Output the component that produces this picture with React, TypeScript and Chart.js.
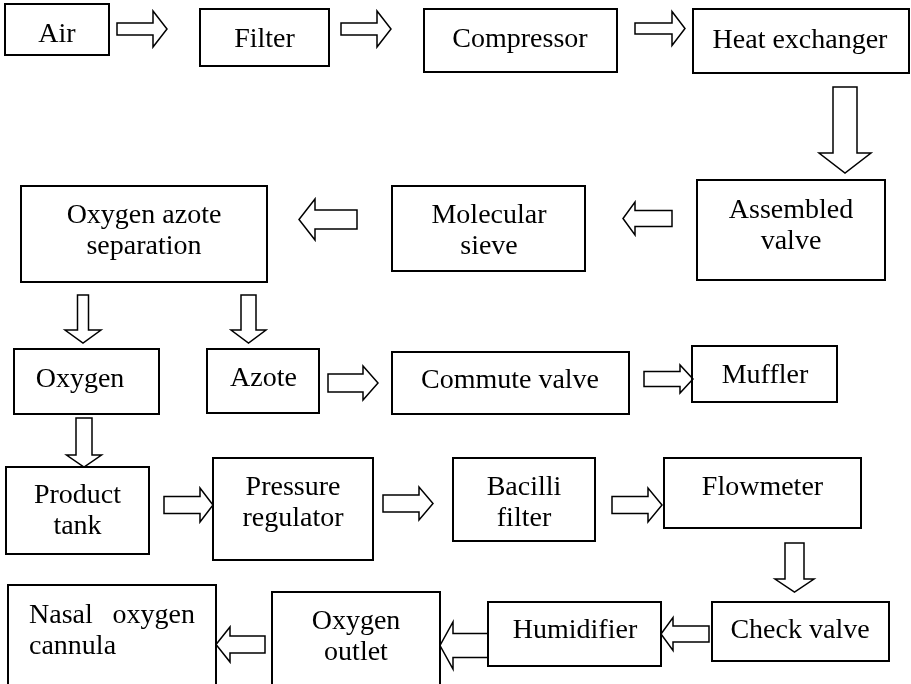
import React, { useEffect, useRef } from "react";
import { Chart, registerables } from "chart.js";

Chart.register(...registerables);

// ---- Flowchart data (units = diagram coordinates, 0..911 x 0..684) ----
const nodeLabels: string[][] = [
  ["Air"],
  ["Filter"],
  ["Compressor"],
  ["Heat exchanger"],
  ["Assembled", "valve"],
  ["Molecular", "sieve"],
  ["Oxygen azote", "separation"],
  ["Oxygen"],
  ["Azote"],
  ["Commute valve"],
  ["Muffler"],
  ["Product", "tank"],
  ["Pressure", "regulator"],
  ["Bacilli", "filter"],
  ["Flowmeter"],
  ["Check valve"],
  ["Humidifier"],
  ["Oxygen", "outlet"],
  ["Nasal oxygen", "cannula"],
];

// [left, top, right, bottom]
const nodeBounds: number[][] = [
  [5, 4, 109, 55],
  [200, 9, 329, 66],
  [424, 9, 617, 72],
  [693, 9, 909, 73],
  [697, 180, 885, 280],
  [392, 186, 585, 271],
  [21, 186, 267, 282],
  [14, 349, 159, 414],
  [207, 349, 319, 413],
  [392, 352, 629, 414],
  [692, 346, 837, 402],
  [6, 467, 149, 554],
  [213, 458, 373, 560],
  [453, 458, 595, 541],
  [664, 458, 861, 528],
  [712, 602, 889, 661],
  [488, 602, 661, 666],
  [272, 592, 440, 700],
  [8, 585, 216, 700],
];

// [text centre x, first baseline y]
const nodeTextAnchor: number[][] = [
  [57, 42],
  [264.5, 47],
  [520, 47],
  [800, 48],
  [791, 218],
  [489, 223],
  [144, 223],
  [80, 387],
  [263.5, 386],
  [510, 388],
  [765, 383],
  [77.5, 503],
  [293, 495],
  [524, 495],
  [762.5, 495],
  [800, 638],
  [575, 638],
  [356, 629],
  [112, 623],
];

// justified text span for the "Nasal oxygen cannula" node
const justifiedNode = 18;
const justifiedSpan = [29, 195];

// arrows: direction, tail, tip, cross-axis centre, shaft half-width, head half-width, head length
const arrowDir: string[] = [
  "right", "right", "right", "down", "left", "left", "down", "down", "right",
  "right", "down", "right", "right", "right", "down", "left", "left", "left",
];
const arrowTail: number[] = [117, 341, 635, 87, 672, 357, 295, 295, 328, 644, 418, 164, 383, 612, 543, 709, 488, 265];
const arrowTip: number[] = [167, 391, 685, 173, 623, 299, 343, 343, 378, 693, 467, 213, 433, 662, 592, 661, 440, 216];
const arrowAt: number[] = [29, 29, 28.5, 845, 218.5, 219.5, 83, 248.5, 383, 379, 84, 505, 503.5, 505, 794.5, 634, 645.5, 644.5];
const arrowShaft: number[] = [6, 6, 5.5, 12, 8, 9.5, 5.5, 7.5, 9, 7.5, 8, 8.5, 8.5, 8.5, 9.5, 8, 12, 8.5];
const arrowHead: number[] = [18, 18, 17, 26, 16.5, 20.5, 18, 17.5, 17, 14, 17.5, 17, 16.5, 17, 19.5, 16.5, 23.5, 17.5];
const arrowHeadLen: number[] = [14, 14, 13, 20, 12, 16, 13, 13, 15, 13, 12, 13, 14, 14, 13, 12, 13, 14];

type Pt = { x: number; y: number };

function boxPoints(b: number[]): Pt[] {
  const [l, t, r, bt] = b;
  return [
    { x: l, y: t },
    { x: r, y: t },
    { x: r, y: bt },
    { x: l, y: bt },
    { x: l, y: t },
    { x: r, y: t },
  ];
}

function arrowPoints(i: number): Pt[] {
  const dir = arrowDir[i];
  const a = arrowTail[i];
  const b = arrowTip[i];
  const c = arrowAt[i];
  const s = arrowShaft[i];
  const h = arrowHead[i];
  const sgn = b > a ? 1 : -1;
  const hb = b - sgn * arrowHeadLen[i];
  const pairs: number[][] = [
    [a, c - s],
    [hb, c - s],
    [hb, c - h],
    [b, c],
    [hb, c + h],
    [hb, c + s],
    [a, c + s],
    [a, c - s],
    [hb, c - s],
  ];
  const horizontal = dir === "right" || dir === "left";
  return pairs.map(([u, v]) => (horizontal ? { x: u, y: v } : { x: v, y: u }));
}

const labelPlugin = {
  id: "flowLabels",
  afterDatasetsDraw(chart: any) {
    const { ctx, scales } = chart;
    const xs = scales.x;
    const ys = scales.y;
    const lineGap = 31;
    ctx.save();
    ctx.font = '28px "Liberation Serif", "Times New Roman", serif';
    ctx.fillStyle = "#000";
    ctx.textBaseline = "alphabetic";
    nodeLabels.forEach((lines, i) => {
      const [tx, ty] = nodeTextAnchor[i];
      lines.forEach((line, k) => {
        const py = ys.getPixelForValue(ty + k * lineGap);
        if (i === justifiedNode) {
          const x0 = xs.getPixelForValue(justifiedSpan[0]);
          const x1 = xs.getPixelForValue(justifiedSpan[1]);
          const words = line.split(" ");
          ctx.textAlign = "left";
          if (k < lines.length - 1 && words.length > 1) {
            const widths = words.map((w) => ctx.measureText(w).width);
            const total = widths.reduce((p, q) => p + q, 0);
            const gap = (x1 - x0 - total) / (words.length - 1);
            let cx = x0;
            words.forEach((w, j) => {
              ctx.fillText(w, cx, py);
              cx += widths[j] + gap;
            });
          } else {
            ctx.fillText(line, x0, py);
          }
        } else {
          ctx.textAlign = "center";
          ctx.fillText(line, xs.getPixelForValue(tx), py);
        }
      });
    });
    ctx.restore();
  },
};

export default function App() {
  const canvasRef = useRef<HTMLCanvasElement | null>(null);

  useEffect(() => {
    const canvas = canvasRef.current;
    if (!canvas) return;
    const datasets: any[] = [];
    nodeBounds.forEach((b, i) => {
      datasets.push({
        label: nodeLabels[i].join(" "),
        data: boxPoints(b),
        showLine: true,
        borderColor: "#000",
        borderWidth: 2,
        pointRadius: 0,
        fill: false,
        tension: 0,
        borderJoinStyle: "miter",
      });
    });
    arrowDir.forEach((_, i) => {
      datasets.push({
        label: "arrow" + i,
        data: arrowPoints(i),
        showLine: true,
        borderColor: "#000",
        borderWidth: 1.5,
        pointRadius: 0,
        fill: false,
        tension: 0,
        borderJoinStyle: "miter",
      });
    });

    const chart = new Chart(canvas, {
      type: "scatter",
      data: { datasets },
      options: {
        animation: false,
        responsive: false,
        events: [],
        layout: { padding: 0 },
        plugins: {
          legend: { display: false },
          tooltip: { enabled: false },
        },
        scales: {
          x: { type: "linear", min: 0, max: 911, display: false },
          y: { type: "linear", min: 0, max: 684, reverse: true, display: false },
        },
      },
      plugins: [labelPlugin],
    });
    return () => chart.destroy();
  }, []);

  return (
    <div style={{ position: "absolute", left: 0, top: 0, width: 911, height: 684, background: "#fff" }}>
      <canvas ref={canvasRef} width={911} height={684} style={{ display: "block" }} />
    </div>
  );
}
